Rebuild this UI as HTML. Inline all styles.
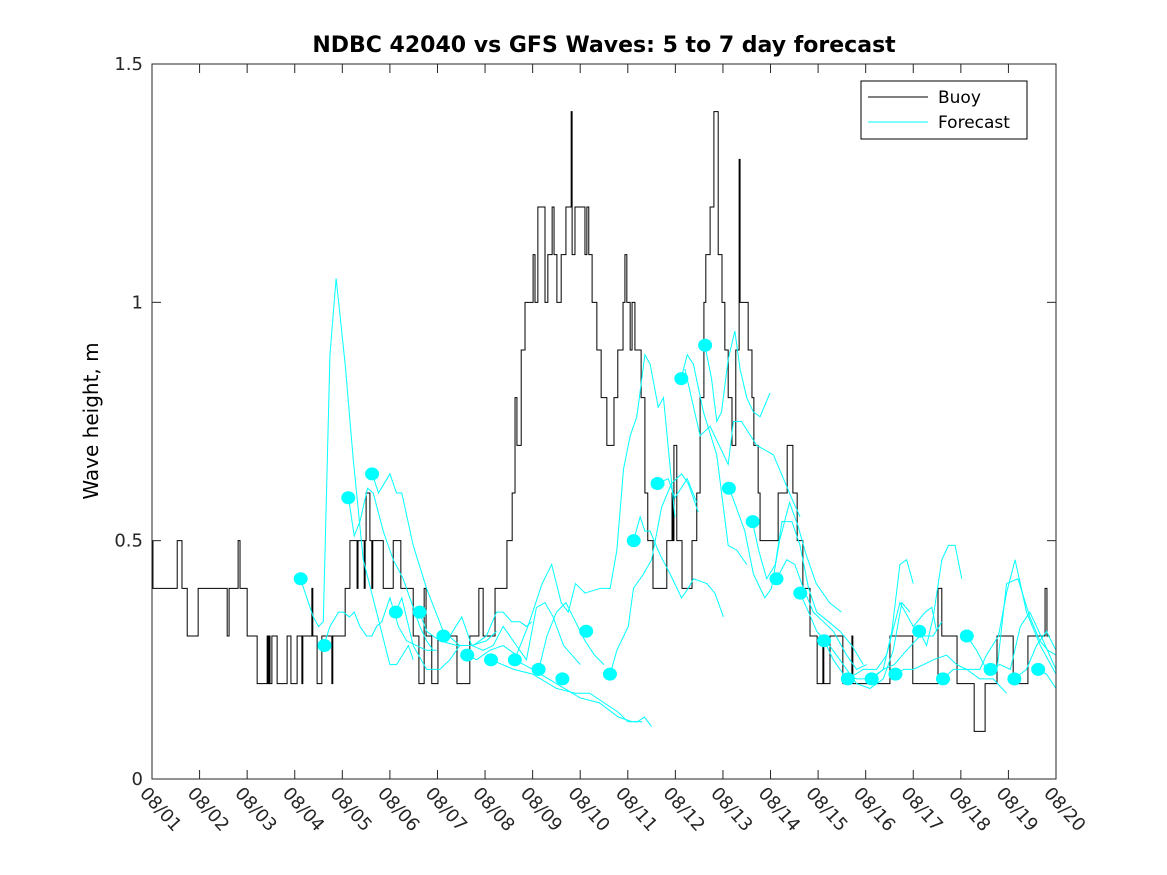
<!DOCTYPE html>
<html><head><meta charset="utf-8"><style>
body{margin:0;background:#fff}
svg{display:block;font-family:"DejaVu Sans","Liberation Sans",sans-serif}
</style></head><body>
<svg id="chart" width="1167" height="875" viewBox="0 0 1167 875" xmlns="http://www.w3.org/2000/svg">
<rect width="1167" height="875" fill="#fff"/>
<text x="604" y="52" text-anchor="middle" font-size="22" font-weight="bold">NDBC 42040 vs GFS Waves: 5 to 7 day forecast</text>
<text transform="translate(98,421) rotate(-90)" text-anchor="middle" font-size="20">Wave height, m</text>
<g id="plot"></g>
<g id="axes"></g>
<g>
<rect x="861" y="81" width="166" height="58" fill="#fff" stroke="#000" stroke-width="1"/>
<line x1="868" y1="97" x2="928" y2="97" stroke="#000"/>
<text x="938" y="103" font-size="17">Buoy</text>
<line x1="868" y1="122" x2="928" y2="122" stroke="#00ffff"/>
<text x="938" y="128" font-size="17">Forecast</text>
</g>
</svg>
<script>
// Buoy step changes: [day since 08/01, height m]
const buoyT=[0,0.02,0.53,0.63,0.74,0.97,1.58,1.62,1.81,1.85,2.00,2.21,2.42,2.44,2.46,2.48,2.52,2.63,2.84,2.92,3.05,3.15,3.17,3.36,3.38,3.47,3.57,3.78,3.80,4.06,4.16,4.31,4.33,4.46,4.48,4.50,4.58,4.62,4.64,4.86,5.07,5.23,5.49,5.61,5.72,5.76,5.88,6.01,6.41,6.68,6.87,6.96,7.21,7.46,7.57,7.63,7.67,7.76,7.84,8.01,8.05,8.11,8.26,8.32,8.41,8.45,8.51,8.60,8.70,8.81,8.83,8.89,9.10,9.14,9.18,9.25,9.35,9.44,9.56,9.71,9.79,9.90,9.94,9.98,10.05,10.09,10.15,10.28,10.36,10.42,10.53,10.82,10.93,10.95,10.97,11.03,11.14,11.35,11.45,11.52,11.60,11.64,11.73,11.81,11.90,11.98,12.04,12.11,12.19,12.27,12.34,12.36,12.53,12.61,12.65,12.74,12.78,13.16,13.35,13.47,13.56,13.68,13.83,13.98,14.10,14.12,14.25,14.52,14.71,14.73,15.51,15.99,16.52,16.60,16.92,17.28,17.51,17.76,18.10,18.41,18.77,18.81,18.87];
const buoyV=[0.5,0.4,0.5,0.4,0.3,0.4,0.3,0.4,0.5,0.4,0.3,0.2,0.3,0.2,0.3,0.2,0.3,0.2,0.3,0.2,0.3,0.2,0.3,0.4,0.3,0.2,0.3,0.2,0.3,0.4,0.5,0.4,0.5,0.4,0.5,0.6,0.5,0.4,0.5,0.4,0.5,0.4,0.3,0.2,0.4,0.3,0.2,0.3,0.2,0.3,0.4,0.3,0.4,0.5,0.6,0.8,0.7,0.9,1.0,1.1,1.0,1.2,1.0,1.1,1.2,1.1,1.0,1.1,1.2,1.4,1.1,1.2,1.1,1.2,1.1,1.0,0.9,0.8,0.7,0.8,0.9,1.0,1.1,1.0,0.9,1.0,0.9,0.8,0.6,0.5,0.4,0.5,0.6,0.5,0.7,0.5,0.4,0.5,0.6,0.8,1.0,1.1,1.2,1.4,1.1,1.0,0.9,0.8,0.7,0.9,1.3,1.0,0.9,0.8,0.7,0.6,0.5,0.6,0.7,0.6,0.5,0.4,0.3,0.2,0.3,0.2,0.3,0.2,0.3,0.2,0.3,0.2,0.4,0.3,0.2,0.1,0.2,0.3,0.2,0.3,0.4,0.3,0.3];
// Forecast (5-day) dots
const dotT=[3.125,3.625,4.125,4.625,5.125,5.625,6.125,6.625,7.125,7.625,8.125,8.625,9.125,9.625,10.125,10.625,11.125,11.625,12.125,12.625,13.125,13.625,14.125,14.625,15.125,15.625,16.125,16.625,17.125,17.625,18.125,18.625];
const dotV=[0.42,0.28,0.59,0.64,0.35,0.35,0.30,0.26,0.25,0.25,0.23,0.21,0.31,0.22,0.50,0.62,0.84,0.91,0.61,0.54,0.42,0.39,0.29,0.21,0.21,0.22,0.31,0.21,0.30,0.23,0.21,0.23];
// Forecast runs: [day, height]
const runs=[
[[3.12,.42],[3.39,.34],[3.50,.32],[3.60,.33],[3.74,.89],[3.87,1.05],[4.06,.87],[4.23,.67],[4.44,.46],[4.72,.35],[5.00,.24],[5.14,.24],[5.39,.28],[5.49,.25]],
[[3.61,.28],[3.74,.32],[3.92,.35],[4.02,.35],[4.15,.34],[4.25,.35],[4.37,.32],[4.51,.30],[4.62,.30],[4.72,.32],[4.83,.33],[5.00,.38],[5.18,.32],[5.35,.29],[5.56,.28],[5.77,.27],[5.98,.27]],
[[4.13,.59],[4.25,.51],[4.37,.54],[4.53,.61],[4.65,.60],[4.86,.52],[5.07,.46],[5.28,.42],[5.49,.36],[5.63,.32],[5.77,.29],[5.91,.27]],
[[4.63,.64],[4.76,.60],[5.00,.64],[5.14,.60],[5.25,.60],[5.49,.49],[5.77,.40],[6.12,.31],[6.47,.28],[6.68,.28]],
[[5.12,.35],[5.25,.38],[5.49,.28],[5.77,.23],[6.05,.23],[6.26,.25],[6.47,.28],[6.72,.28],[7.03,.29],[7.24,.31]],
[[5.62,.35],[5.77,.31],[6.05,.29],[6.40,.28],[6.75,.28],[7.03,.30],[7.24,.35],[7.38,.35],[7.56,.33],[7.73,.33],[7.87,.32],[7.98,.33]],
[[6.12,.30],[6.26,.30],[6.51,.34],[6.72,.28],[6.96,.27],[7.17,.28],[7.38,.32],[7.66,.28],[7.87,.25],[8.08,.36],[8.26,.37],[8.43,.34],[8.65,.28],[9.00,.24]],
[[6.63,.26],[6.82,.25],[7.10,.27],[7.38,.28],[7.66,.26],[7.90,.32],[8.20,.41],[8.40,.45],[8.60,.37],[8.75,.35],[8.90,.41],[9.10,.39],[9.42,.40],[9.63,.40],[9.77,.48],[9.91,.65],[10.05,.72],[10.19,.76],[10.36,.89],[10.47,.87],[10.64,.78],[10.75,.80],[10.99,.55]],
[[7.13,.25],[7.6,.23],[8.0,.22],[8.5,.19],[8.9,.18],[9.2,.18],[9.5,.16],[9.8,.14],[10.0,.12],[10.2,.12],[10.35,.13],[10.5,.11]],
[[7.63,.25],[8.0,.23],[8.5,.20],[9.0,.17],[9.4,.16],[9.8,.13],[10.1,.12],[10.3,.12]],
[[8.13,.23],[8.3,.30],[8.5,.35],[8.7,.37],[8.9,.33],[9.1,.29],[9.3,.26],[9.5,.24]],
[[9.63,.22],[9.77,.27],[10.01,.32],[10.12,.40],[10.33,.43],[10.50,.46],[10.71,.57],[10.92,.62],[11.13,.64],[11.27,.62],[11.48,.56]],
[[10.12,.50],[10.26,.55],[10.36,.52],[10.47,.52],[10.68,.47],[10.89,.43],[11.13,.38],[11.27,.40],[11.38,.42],[11.66,.41],[11.83,.39],[12.01,.34]],
[[10.62,.62],[10.85,.63],[10.99,.59],[11.25,.63],[11.45,.58]],
[[11.12,.84],[11.25,.89],[11.38,.87],[11.59,.77],[11.87,.68],[12.11,.49],[12.29,.48],[12.50,.45]],
[[11.62,.91],[11.76,.84],[11.87,.75],[11.97,.77],[12.11,.88],[12.25,.94],[12.36,.86],[12.50,.80],[12.64,.77],[12.78,.76],[12.99,.81]],
[[11.20,.86],[11.52,.72],[11.73,.74],[12.11,.66],[12.22,.75],[12.39,.75],[12.71,.70],[13.06,.68],[13.23,.64],[13.44,.59],[13.62,.55]],
[[12.13,.61],[12.28,.57],[12.46,.52],[12.64,.43],[12.88,.38],[13.02,.40],[13.19,.50],[13.40,.58],[13.58,.53],[13.75,.47],[13.96,.41],[14.24,.37],[14.49,.35]],
[[12.62,.54],[12.75,.48],[12.92,.42],[13.10,.45],[13.24,.54],[13.45,.54],[13.62,.49],[13.80,.40],[13.97,.35],[14.22,.33],[14.46,.31],[14.71,.28],[14.95,.24]],
[[13.13,.42],[13.34,.46],[13.51,.45],[13.69,.40],[13.90,.35],[14.11,.33],[14.32,.31],[14.60,.26],[14.81,.23],[15.02,.24]],
[[13.62,.39],[13.80,.35],[13.97,.31],[14.24,.28],[14.53,.24],[14.81,.20],[15.09,.19],[15.37,.21],[15.58,.27],[15.76,.37],[15.93,.35]],
[[14.13,.29],[14.32,.25],[14.53,.22],[14.81,.21],[15.09,.21],[15.37,.23],[15.55,.31],[15.72,.45],[15.86,.46],[16.0,.41]],
[[14.63,.21],[14.95,.23],[15.23,.23],[15.44,.26],[15.72,.37],[16.0,.32],[16.25,.35],[16.39,.36],[16.49,.31]],
[[15.13,.21],[15.37,.23],[15.60,.24],[15.86,.27],[16.14,.30],[16.42,.30],[16.60,.33]],
[[16.13,.31],[16.28,.28],[16.42,.34],[16.60,.46],[16.74,.49],[16.88,.49],[17.02,.42]],
[[15.63,.22],[15.80,.23],[16.0,.23],[16.22,.24],[16.42,.25],[16.70,.26],[16.91,.24],[17.12,.23],[17.40,.21],[17.68,.21],[17.96,.18]],
[[16.63,.21],[16.84,.23],[17.12,.23],[17.40,.23],[17.54,.26],[17.79,.30],[17.96,.39],[18.14,.46],[18.38,.35],[18.67,.28],[19.0,.22]],
[[17.13,.30],[17.33,.27],[17.54,.23],[17.76,.23],[17.96,.41],[18.2,.42],[18.45,.34],[18.66,.29],[18.83,.27],[19.0,.26]],
[[17.62,.23],[17.82,.24],[18.04,.23],[18.25,.32],[18.45,.35],[18.73,.29],[19.0,.23]],
[[18.12,.21],[18.38,.23],[18.59,.28],[18.8,.31],[19.0,.27]],
[[18.62,.23],[18.8,.22],[19.0,.19]]
];
const xTickLabels=["08/01","08/02","08/03","08/04","08/05","08/06","08/07","08/08","08/09","08/10","08/11","08/12","08/13","08/14","08/15","08/16","08/17","08/18","08/19","08/20"];
const yTicks=[0,0.5,1,1.5];
const yTickLabels=["0","0.5","1","1.5"];

const L=152,R=1056,T=64,B=779,XMAX=19,YMAX=1.5;
const sx=t=>L+(R-L)*t/XMAX, sy=v=>B-(B-T)*v/YMAX;
const NS="http://www.w3.org/2000/svg";
const plot=document.getElementById('plot'), axes=document.getElementById('axes');
function mk(tag,attrs,parent){const e=document.createElementNS(NS,tag);for(const k in attrs)e.setAttribute(k,attrs[k]);parent.appendChild(e);return e;}

let d=`M${sx(buoyT[0])},${sy(buoyV[0])}`;
for(let i=1;i<buoyT.length;i++){d+=`L${sx(buoyT[i])},${sy(buoyV[i-1])}L${sx(buoyT[i])},${sy(buoyV[i])}`;}
const bp=mk('path',{d:d,fill:'none',stroke:'#000','stroke-width':1},plot);



runs.forEach((r,i)=>{
  const p=mk('polyline',{points:r.map(q=>sx(q[0])+','+sy(q[1])).join(' '),fill:'none',stroke:'#00ffff','stroke-width':1},plot);
  
  
});
dotT.forEach((t,i)=>{
  const c=mk('ellipse',{cx:sx(t),cy:sy(dotV[i]),rx:7,ry:6.5,fill:'#00ffff'},plot);
  
  
});

const box=mk('rect',{x:L,y:T,width:R-L,height:B-T,fill:'none',stroke:'#262626','stroke-width':1},axes);


xTickLabels.forEach((lab,i)=>{
  const x=sx(i);
  mk('line',{x1:x,y1:B,x2:x,y2:B-9,stroke:'#262626'},axes);
  mk('line',{x1:x,y1:T,x2:x,y2:T+9,stroke:'#262626'},axes);
  const tx=mk('text',{x:0,y:0,'font-size':18,fill:'#262626',transform:`translate(${x-13},${B+15}) rotate(48)`},axes);
  tx.textContent=lab;
  
  
});
yTicks.forEach((v,i)=>{
  const y=sy(v);
  mk('line',{x1:L,y1:y,x2:L+9,y2:y,stroke:'#262626'},axes);
  mk('line',{x1:R,y1:y,x2:R-9,y2:y,stroke:'#262626'},axes);
  const tx=mk('text',{x:L-9,y:y+6,'font-size':18,fill:'#262626','text-anchor':'end'},axes);
  tx.textContent=yTickLabels[i];
  
  
});
</script>
</body></html>
